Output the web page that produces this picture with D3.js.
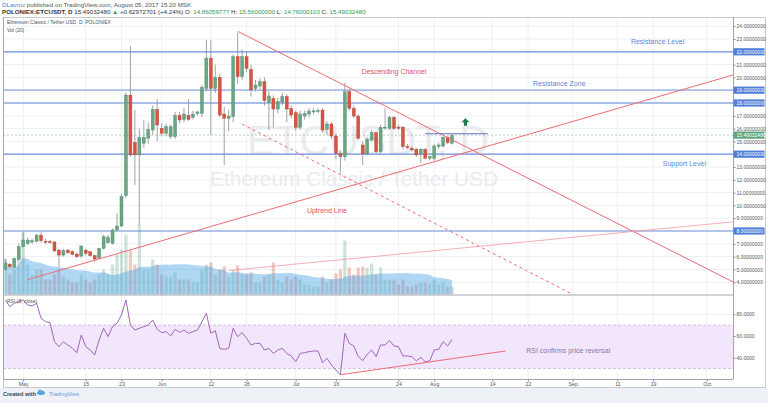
<!DOCTYPE html>
<html><head><meta charset="utf-8">
<script src="https://cdn.jsdelivr.net/npm/d3@7"></script>
<style>
body{margin:0;background:#fff;}
svg{display:block;font-family:"Liberation Sans",Arial,sans-serif;}
</style>
</head><body>
<svg id="chart" width="768" height="403"></svg>
<script>
// ---------------- DATA ----------------
const startDate = "2017-04-27";
const opens  = [5.00,5.40,5.16,5.79,6.77,7.03,7.14,7.19,7.68,7.20,7.16,7.14,6.51,6.12,6.51,6.38,6.20,6.04,6.51,6.38,6.07,5.89,6.64,7.09,7.03,8.08,8.39,10.76,18.62,14.93,13.94,14.85,15.24,15.89,17.50,16.02,15.63,15.37,15.37,17.04,16.72,17.04,16.88,17.19,17.19,19.14,21.51,19.14,20.00,17.14,16.80,16.93,21.62,20.06,21.62,20.63,19.14,19.33,19.67,18.03,18.36,17.53,18.03,18.50,17.58,17.24,16.10,16.98,17.14,17.37,17.40,17.45,15.94,16.36,15.42,14.07,13.81,18.88,17.58,16.98,14.72,14.02,15.11,15.68,14.20,16.10,16.02,16.88,16.10,16.10,14.60,14.46,14.38,14.02,14.38,13.68,13.68,14.59,14.64,15.32,14.86];
const highs  = [5.79,5.50,5.95,7.03,7.95,7.50,7.40,7.80,7.90,7.40,7.30,7.20,6.60,6.60,6.60,6.50,6.30,6.90,6.60,6.45,6.15,6.70,7.70,7.70,8.20,9.38,10.90,18.80,22.45,17.45,16.00,16.70,16.50,17.80,18.30,16.40,16.40,16.30,17.30,17.30,17.60,18.30,17.40,17.40,19.40,22.92,22.92,21.00,20.30,17.70,17.50,21.80,23.50,22.20,22.00,21.00,19.80,19.90,20.00,18.90,18.60,18.40,18.80,18.70,17.80,17.40,17.40,17.40,17.60,17.60,17.60,17.60,16.60,16.50,15.60,14.30,19.59,19.10,17.80,17.10,15.00,15.30,15.90,15.80,16.30,17.60,17.00,17.00,16.30,16.20,14.80,14.60,14.50,14.50,14.50,13.90,14.80,14.90,15.40,15.40,15.56];
const lows   = [4.90,5.10,5.10,5.70,6.70,6.90,7.00,7.10,7.10,7.00,7.00,6.40,5.20,6.00,6.20,6.10,5.90,5.90,6.10,6.00,5.60,5.80,6.55,7.00,6.95,8.00,8.30,10.60,13.80,11.60,8.47,14.50,14.80,15.50,15.00,15.40,15.40,15.20,15.20,16.40,16.50,16.60,16.70,17.00,16.90,18.90,15.50,18.80,16.90,13.16,15.80,16.50,19.50,19.80,20.40,18.50,18.90,19.10,17.80,15.90,16.00,17.20,17.80,16.50,16.80,15.80,15.90,16.70,16.90,17.10,17.20,15.70,15.50,15.20,13.60,12.50,13.50,17.40,16.80,15.10,13.16,13.90,15.00,14.10,14.10,15.90,15.90,15.90,15.90,14.40,14.40,14.20,13.80,13.30,13.60,13.50,13.50,14.40,14.50,14.80,14.76];
const closes = [5.47,5.21,5.84,6.77,7.29,7.29,7.24,7.66,7.24,7.17,7.14,6.44,6.12,6.46,6.30,6.18,5.99,6.83,6.25,6.07,5.81,6.64,7.55,7.50,8.08,8.39,10.68,18.62,13.94,13.94,15.32,15.32,15.94,17.50,16.28,15.63,16.15,16.15,17.04,16.67,17.14,16.72,17.14,17.30,19.22,21.51,19.14,20.00,17.06,16.80,16.98,21.62,20.06,21.62,20.71,19.02,19.40,19.67,18.18,18.55,17.53,18.10,18.50,17.53,17.06,16.10,17.14,17.19,17.37,17.38,17.42,15.89,16.36,15.42,14.07,13.81,18.88,17.58,16.98,15.24,14.02,15.16,15.68,14.20,16.10,16.12,16.88,16.02,16.08,14.59,14.58,14.33,13.94,14.38,13.68,13.81,14.64,14.72,15.32,14.90,15.49];
const volumes= [36,20,25,40,62,30,20,25,25,15,15,20,25,18,15,12,12,20,15,12,15,20,25,20,30,40,45,60,44,30,70,25,25,35,30,20,18,18,22,15,15,15,12,12,25,30,32,20,25,28,18,25,29,20,20,22,12,12,18,20,32,15,12,18,15,18,15,10,10,8,8,18,12,15,21,25,54,27,20,27,28,27,31,20,27,15,15,15,10,15,8,8,10,12,12,10,15,10,12,8,8];
const rsiValues = [93.2,87.0,90.1,91.6,93.2,88.6,87.7,90.1,76.3,73.2,72.3,54.8,50.2,54.8,51.7,48.6,44.6,60.9,50.2,47.1,42.5,56.3,67.1,59.4,68.6,71.7,79.4,93.2,70.1,65.5,67.1,68.6,70.1,74.8,66.1,63.1,64.0,60.0,66.1,63.4,65.5,62.5,64.0,65.5,73.2,80.9,62.5,64.9,48.6,47.7,48.6,67.1,59.4,63.1,57.9,51.7,53.2,53.2,47.1,48.6,44.0,47.1,48.6,44.0,41.6,36.4,44.0,44.6,45.6,46.2,46.2,35.4,39.4,33.3,28.7,24.1,62.5,53.2,50.8,41.0,37.3,43.1,47.1,41.0,51.7,51.7,55.7,50.8,50.2,41.6,41.6,41.0,37.0,40.3,36.3,37.0,47.1,47.7,54.8,50.8,56.9];

const priceTicks = [4,5,6,7,8,9,10,11,12,13,14,15,16,17,18,19,20,21,22,23,24];
const rsiTicks = [40,60,80];
const xTickDates  = ["2017-05-01","2017-05-15","2017-05-23","2017-06-01","2017-06-12","2017-06-20","2017-07-01","2017-07-10","2017-07-24","2017-08-01","2017-08-14","2017-08-22","2017-09-01","2017-09-11","2017-09-19","2017-10-01"];
const xTickLabels = ["May","15","23","Jun","12","26","Jul","16","24","Aug","14","22","Sep","11","19","Oct"];

const levelValues = [22,19,18,14,8];
const levelStyles = ["strong","soft","soft","strong","strong"];
const lastPrice = 15.49032480;

// drawings: [date, value] endpoints
const descUpper = [["2017-06-18",23.6],["2017-10-07",4.0]];
const descLower = [["2017-06-19",16.35],["2017-09-01",3.05]];
const uptrend   = [["2017-05-02",4.2],["2017-10-07",20.2]];
const faintLine = [["2017-06-16",4.91],["2017-10-07",8.72]];
const priceRay  = [["2017-07-30",15.6],["2017-08-13",15.6]];
const rsiLine   = [["2017-07-11",24.3],["2017-08-17",46.2]];
const arrowPoint = ["2017-08-08",16.5];

const notes = [
  {text:"Resistance Level", date:"2017-09-20", value:22.6, color:"#5b86d6"},
  {text:"Resistance Zone", date:"2017-08-29", value:19.3, color:"#5b86d6"},
  {text:"Descending Channel", date:"2017-07-23", value:20.25, color:"#e0525c"},
  {text:"Support Level", date:"2017-09-26", value:13.1, color:"#5b86d6"},
  {text:"Uptrend Line", date:"2017-07-08", value:9.4, color:"#e0525c"}
];
const rsiNote = {text:"RSI confirms price reversal", date:"2017-08-31", value:44.3};

// ---------------- LAYOUT ----------------
const paneL=3, paneR=733, mainT=17, mainB=294.5, rsiT=295, rsiB=379, frameB=387, frameR=765;
const svg = d3.select("#chart");
const parse = s => new Date(s);
const dates = opens.map((_,i)=> d3.utcDay.offset(parse(startDate), i));

const x = d3.scaleUtc().domain([parse("2017-05-01"), parse("2017-10-01")]).range([23.2, 706.7]);
const y = d3.scaleLinear().domain([8,22]).range([231,51.8]);
const yR = d3.scaleLinear().domain([40,80]).range([357.7,314.3]);
const yV = d3.scaleLinear().domain([0,100]).range([mainB,mainB-100]);

// background & footer
svg.append("rect").attr("width",768).attr("height",403).attr("fill","#fff");
svg.append("rect").attr("x",0).attr("y",frameB+1).attr("width",768).attr("height",403-frameB-1).attr("fill","#eef1f5");

const defs = svg.append("defs");
defs.append("clipPath").attr("id","mainClip").append("rect").attr("x",paneL).attr("y",mainT).attr("width",paneR-paneL).attr("height",mainB-mainT);
defs.append("clipPath").attr("id","rsiClip").append("rect").attr("x",paneL).attr("y",rsiT).attr("width",paneR-paneL).attr("height",rsiB-rsiT);

const main = svg.append("g").attr("clip-path","url(#mainClip)");
const rsiG = svg.append("g").attr("clip-path","url(#rsiClip)");

// grid
const gridColor = "#edf0f3";
xTickDates.forEach(d=>{
  [ [mainT,mainB,main], [rsiT,rsiB,rsiG] ].forEach(([a,b,g])=>{
    g.append("line").attr("x1",x(parse(d))).attr("x2",x(parse(d))).attr("y1",a).attr("y2",b).attr("stroke",gridColor).attr("stroke-width",1);
  });
});
priceTicks.forEach(v=>{
  main.append("line").attr("x1",paneL).attr("x2",paneR).attr("y1",y(v)).attr("y2",y(v)).attr("stroke",gridColor);
});
rsiTicks.forEach(v=>{
  rsiG.append("line").attr("x1",paneL).attr("x2",paneR).attr("y1",yR(v)).attr("y2",yR(v)).attr("stroke",gridColor);
});

// watermark
main.append("text").attr("x",368).attr("y",y(13.95)).attr("text-anchor","middle")
  .attr("font-size",42).attr("fill","#e9ebee").attr("textLength",242).attr("lengthAdjust","spacingAndGlyphs").text("ETCUSDT, D");
main.append("text").attr("x",354).attr("y",y(11.55)).attr("text-anchor","middle")
  .attr("font-size",21).attr("fill","#e9ebee").attr("textLength",288).attr("lengthAdjust","spacingAndGlyphs").text("Ethereum Classic / Tether USD");

// volume bars
const bw = 3.2;
main.selectAll(".vol").data(volumes).enter().append("rect")
  .attr("x",(d,i)=>x(dates[i])-bw/2).attr("width",bw)
  .attr("y",d=>yV(d)).attr("height",d=>mainB-yV(d))
  .attr("fill",(d,i)=> closes[i]>=opens[i] ? "rgba(107,165,131,0.32)" : "rgba(215,84,66,0.32)");

// volume MA (20)
const volMA = volumes.map((v,i)=> d3.mean(volumes.slice(Math.max(0,i-19), i+1)));
main.append("path").datum(volMA)
  .attr("d", d3.area().x((d,i)=>x(dates[i])).y0(mainB).y1(d=>yV(d)).curve(d3.curveMonotoneX))
  .attr("fill","rgba(77,166,230,0.45)");

// horizontal levels
levelValues.forEach((v,i)=>{
  const soft = levelStyles[i]==="soft";
  main.append("line").attr("x1",paneL).attr("x2",paneR).attr("y1",y(v)).attr("y2",y(v))
    .attr("stroke", soft ? "#a9bfe9" : "#6f8fdf").attr("stroke-width", soft ? 1.8 : 1.2);
});
// last price dashed line
main.append("line").attr("x1",paneL).attr("x2",paneR).attr("y1",y(lastPrice)).attr("y2",y(lastPrice))
  .attr("stroke","#9cc4ac").attr("stroke-dasharray","2,2").attr("stroke-width",0.8);

// candles
const cw = 3;
const cg = main.append("g");
dates.forEach((d,i)=>{
  const up = closes[i]>=opens[i];
  const cx = x(d);
  cg.append("line").attr("x1",cx).attr("x2",cx).attr("y1",y(highs[i])).attr("y2",y(lows[i]))
    .attr("stroke","#8a8c90").attr("stroke-width",0.8);
  const top = y(Math.max(opens[i],closes[i])), bot = y(Math.min(opens[i],closes[i]));
  cg.append("rect").attr("x",cx-cw/2).attr("width",cw).attr("y",top).attr("height",Math.max(1,bot-top))
    .attr("fill", up ? "#6ba583" : "#d75442").attr("stroke", up ? "#4f8a68" : "#b8432f").attr("stroke-width",0.4);
});

// drawings
const line2 = (pts, yy) => d3.line().x(p=>x(parse(p[0]))).y(p=>yy(p[1]))(pts);
main.append("path").attr("d",line2(descUpper,y)).attr("stroke","#ee6b73").attr("stroke-width",1).attr("fill","none");
main.append("path").attr("d",line2(descLower,y)).attr("stroke","#ee6b73").attr("stroke-width",1).attr("stroke-dasharray","3,3").attr("fill","none");
main.append("path").attr("d",line2(uptrend,y)).attr("stroke","#ee6b73").attr("stroke-width",1).attr("fill","none");
main.append("path").attr("d",line2(faintLine,y)).attr("stroke","#f19aa0").attr("stroke-width",0.8).attr("fill","none");
main.append("path").attr("d",line2(priceRay,y)).attr("stroke","#6a72c6").attr("stroke-width",1).attr("fill","none");

// arrow
const ax = x(parse(arrowPoint[0])), ay = y(arrowPoint[1]);
main.append("path").attr("d",`M${ax},${ay-4} L${ax+4},${ay} L${ax+1.6},${ay} L${ax+1.6},${ay+3.5} L${ax-1.6},${ay+3.5} L${ax-1.6},${ay} L${ax-4},${ay} Z`).attr("fill","#1f7a4d");

// notes
notes.forEach(n=>{
  main.append("text").attr("x",x(parse(n.date))).attr("y",y(n.value)).attr("text-anchor","middle")
    .attr("font-size",7).attr("fill",n.color).text(n.text);
});

// RSI pane
rsiG.append("rect").attr("x",paneL).attr("width",paneR-paneL).attr("y",yR(70)).attr("height",yR(30)-yR(70)).attr("fill","#f2e6fd");
[70,30].forEach(v=> rsiG.append("line").attr("x1",paneL).attr("x2",paneR).attr("y1",yR(v)).attr("y2",yR(v))
  .attr("stroke","#c9b6d8").attr("stroke-dasharray","3,2").attr("stroke-width",0.8));
rsiG.append("path").datum(rsiValues)
  .attr("d",d3.line().x((d,i)=>x(dates[i])).y(d=>yR(d)))
  .attr("fill","none").attr("stroke","#a066bb").attr("stroke-width",1);
rsiG.append("path").attr("d",line2(rsiLine,yR)).attr("stroke","#ee6b73").attr("stroke-width",1).attr("fill","none");
rsiG.append("text").attr("x",x(parse(rsiNote.date))).attr("y",yR(rsiNote.value)).attr("text-anchor","middle")
  .attr("font-size",7).attr("fill","#8d74a8").text(rsiNote.text);

// frames
const frameColor = "#a3a7ad";
svg.append("rect").attr("x",paneL+0.5).attr("y",mainT+0.5).attr("width",frameR-paneL).attr("height",frameB-mainT).attr("fill","none").attr("stroke","#c7cbd0");
svg.append("line").attr("x1",paneR+0.5).attr("x2",paneR+0.5).attr("y1",mainT).attr("y2",rsiB).attr("stroke",frameColor);
svg.append("line").attr("x1",paneL).attr("x2",paneR).attr("y1",mainB+0.5).attr("y2",mainB+0.5).attr("stroke",frameColor);
svg.append("line").attr("x1",paneL).attr("x2",paneR).attr("y1",rsiB+0.5).attr("y2",rsiB+0.5).attr("stroke",frameColor);
svg.append("line").attr("x1",paneL+0.5).attr("x2",paneL+0.5).attr("y1",mainT).attr("y2",rsiB).attr("stroke",frameColor);

// right price axis
const fmt8 = d3.format(".8f");
const axisR = d3.axisRight(y).tickValues(priceTicks).tickSize(2).tickFormat(fmt8);
const gAx = svg.append("g").attr("transform",`translate(${paneR+0.5},0)`).call(axisR);
gAx.select(".domain").remove();
gAx.selectAll("line").attr("stroke","#888");
gAx.selectAll("text").attr("font-size",5).attr("fill","#555").attr("x",3).attr("font-family","Liberation Sans, Arial");

// RSI axis
const axisRsi = d3.axisRight(yR).tickValues(rsiTicks).tickSize(2).tickFormat(d3.format(".4f"));
const gAr = svg.append("g").attr("transform",`translate(${paneR+0.5},0)`).call(axisRsi);
gAr.select(".domain").remove();
gAr.selectAll("line").attr("stroke","#888");
gAr.selectAll("text").attr("font-size",5).attr("fill","#555").attr("x",3).attr("font-family","Liberation Sans, Arial");

// price label boxes
levelValues.concat([lastPrice]).forEach((v,i)=>{
  const isLast = i===levelValues.length;
  svg.append("rect").attr("x",paneR+0.5).attr("y",y(v)-3.6).attr("width",31).attr("height",7.2)
    .attr("fill", isLast ? "#5fa57b" : "#4f7fd9");
  svg.append("text").attr("x",paneR+3.5).attr("y",y(v)+1.8).attr("font-size",5).attr("fill","#fff").text(fmt8(v));
});

// bottom axis
const axisB = d3.axisBottom(x).tickValues(xTickDates.map(parse)).tickSize(2).tickFormat((d,i)=>xTickLabels[i]);
const gAb = svg.append("g").attr("transform",`translate(0,${rsiB+0.5})`).call(axisB);
gAb.select(".domain").remove();
gAb.selectAll("line").attr("stroke","#888");
gAb.selectAll("text").attr("font-size",5.2).attr("fill","#555").attr("dy","0.2em").attr("font-family","Liberation Sans, Arial");

// header
const h1 = svg.append("text").attr("x",2).attr("y",7).attr("font-size",6.2).attr("fill","#555");
h1.append("tspan").attr("fill","#3c83d6").text("DLavrov");
h1.append("tspan").text(" published on TradingView.com, August 05, 2017 15:20 MSK");
const h2 = svg.append("text").attr("x",2).attr("y",14.3).attr("font-size",6.2).attr("fill","#333");
h2.append("tspan").attr("font-weight","bold").text("POLONIEX:ETCUSDT, D");
h2.append("tspan").text("  15.49032480 ");
h2.append("tspan").attr("fill","#2e9b57").text("▲");
h2.append("tspan").text(" +0.62972701 (+4.24%) O: ");
h2.append("tspan").attr("fill","#2e9b57").text("14.86059777");
h2.append("tspan").text(" H: ");
h2.append("tspan").attr("fill","#2e9b57").text("15.56000000");
h2.append("tspan").text(" L: ");
h2.append("tspan").attr("fill","#2e9b57").text("14.76000103");
h2.append("tspan").text(" C: ");
h2.append("tspan").attr("fill","#2e9b57").text("15.49032480");

// pane legends
svg.append("text").attr("x",7).attr("y",24).attr("font-size",5).attr("fill","#555").text("Ethereum Classic / Tether USD, D, POLONIEX");
svg.append("text").attr("x",7).attr("y",31.5).attr("font-size",5).attr("fill","#555").text("Vol (20)");
svg.append("text").attr("x",7).attr("y",302.5).attr("font-size",5).attr("fill","#555").text("RSI (8, close)");

// footer
svg.append("text").attr("x",3).attr("y",396).attr("font-size",5.5).attr("font-weight","bold").attr("fill","#444").text("Created with");
const logo = svg.append("g").attr("transform","translate(41,393)");
logo.append("ellipse").attr("cx",0).attr("cy",0).attr("rx",4).attr("ry",2).attr("fill","#5ba7e0");
logo.append("circle").attr("cx",-1).attr("cy",-1.5).attr("r",2).attr("fill","#5ba7e0");
logo.append("circle").attr("cx",1.5).attr("cy",-1).attr("r",1.6).attr("fill","#5ba7e0");
svg.append("text").attr("x",49).attr("y",396).attr("font-size",5.5).attr("fill","#5aa0dd").text("TradingView");
</script>
</body></html>
